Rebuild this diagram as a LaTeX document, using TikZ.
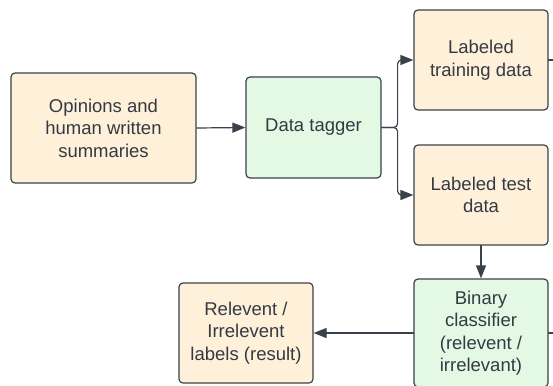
\documentclass[tikz,border=0pt]{standalone}
\usepackage{fontspec}
\setmainfont{Liberation Sans}
\usetikzlibrary{arrows.meta}
\definecolor{boxline}{HTML}{3A414A}
\definecolor{inputfill}{HTML}{FFF0D9}
\definecolor{procfill}{HTML}{E3F9E3}
\definecolor{textcol}{HTML}{333A44}
\begin{document}
\begin{tikzpicture}[x=1pt,y=-1pt,line cap=round,line join=round,
  box/.style={draw=boxline,line width=1.2pt,rounded corners=4pt,inner sep=0pt,
    align=center,text=textcol,font=\fontsize{18.5}{22.5}\selectfont},
  inbox/.style={box,fill=inputfill},
  procbox/.style={box,fill=procfill},
  wire/.style={draw=boxline,line width=1.2pt},
  link/.style={wire,-{Triangle[length=13pt,width=10pt]}}]
  \useasboundingbox (0,0) rectangle (553,385);
  \clip (0,0) rectangle (553,385);
  % boxes
  \node[inbox,minimum width=185pt,minimum height=110pt] (opinions) at (103.5,128)
    {Opinions and\\human written\\summaries};
  \node[procbox,minimum width=135pt,minimum height=101pt] (tagger) at (313.5,127.5)
    {Data tagger};
  \node[inbox,minimum width=134pt,minimum height=100pt] (train) at (481,60)
    {Labeled\\training data};
  \node[inbox,minimum width=134pt,minimum height=100pt] (test) at (481,195)
    {Labeled test\\data};
  \node[procbox,minimum width=134pt,minimum height=108pt] (classifier) at (481,333)
    {Binary\\classifier\\(relevent /\\irrelevant)};
  \node[inbox,minimum width=134pt,minimum height=100pt] (result) at (246,333)
    {Relevent /\\Irrelevent\\labels (result)};
  % connectors
  \draw[link] (opinions.east) -- (tagger.west);
  \draw[link,rounded corners=4pt] (tagger.east) -- ++(16,0) |- (train.west);
  \draw[link,rounded corners=4pt] (tagger.east) -- ++(16,0) |- (test.west);
  \draw[link] (test.south) -- (classifier.north);
  \draw[link] (classifier.west) -- (result.east);
  % lines leaving the frame
  \coordinate (trainout) at (560,60);
  \coordinate (classout) at (560,333);
  \draw[wire] (train.east) -- (trainout);
  \draw[wire] (classifier.east) -- (classout);
\end{tikzpicture}
\end{document}
